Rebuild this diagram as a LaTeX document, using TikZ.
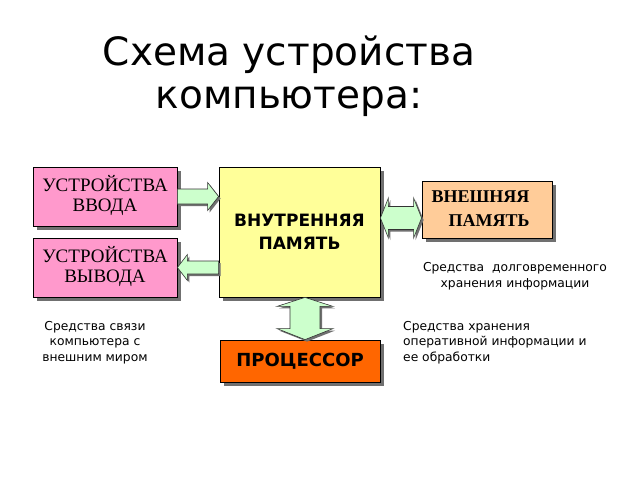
\documentclass[tikz,border=0pt]{standalone}
\usepackage{fontspec}
\setmainfont{Liberation Serif}
\newfontfamily\djv{DejaVu Sans}
\usetikzlibrary{calc,shadows}
\definecolor{pinkbox}{HTML}{FF99CC}
\definecolor{yelbox}{HTML}{FFFF99}
\definecolor{peachbox}{HTML}{FFCC99}
\definecolor{orangebox}{HTML}{FF6600}
\definecolor{arrowgreen}{HTML}{CCFFCC}
\definecolor{shadowgray}{HTML}{707070}
\begin{document}
\begin{tikzpicture}[x=1pt,y=-1pt,
  boxstyle/.style={draw=black, line width=0.8pt, inner sep=0pt, align=center,
    drop shadow={shadow xshift=3.5pt, shadow yshift=-3.5pt, fill=shadowgray, opacity=1}},
  barrow/.style={draw=black!80, line width=0.6pt, fill=arrowgreen, line join=miter,
    preaction={fill=shadowgray, transform canvas={shift={(2pt,-2pt)}}}},
  smalltext/.style={inner sep=0pt, font=\djv\fontsize{12.3}{15.5}\selectfont}
]
\useasboundingbox (0,0) rectangle (640,480);
\fill[white] (0,0) rectangle (640,480);

% title
\node[inner sep=0pt, anchor=base, font=\djv\fontsize{39}{44}\selectfont] (t1) at (289,65) {Схема устройства};
\node[inner sep=0pt, anchor=base, font=\djv\fontsize{39}{44}\selectfont] (t2) at (289,108) {компьютера:};

% boxes
\node[boxstyle, fill=pinkbox, minimum width=144pt, minimum height=59pt,
  font=\fontsize{19}{20}\selectfont] (in) at (105,196.5) {\raisebox{2pt}{\begin{tabular}{@{}c@{}}УСТРОЙСТВА\\ВВОДА\end{tabular}}};
\node[boxstyle, fill=pinkbox, minimum width=144pt, minimum height=59pt,
  font=\fontsize{19}{20}\selectfont] (out) at (105,267.5) {\raisebox{2pt}{\begin{tabular}{@{}c@{}}УСТРОЙСТВА\\ВЫВОДА\end{tabular}}};
\node[boxstyle, fill=yelbox, minimum width=161pt, minimum height=130pt,
  font=\djv\bfseries\fontsize{17}{23}\selectfont] (mem) at (299.5,232) {ВНУТРЕННЯЯ\\ПАМЯТЬ};
\node[boxstyle, fill=peachbox, minimum width=130pt, minimum height=57pt,
  font=\bfseries\fontsize{18}{24}\selectfont] (ext) at (487,209.5) {\raisebox{4.5pt}{\begin{tabular}{@{}l@{}}ВНЕШНЯЯ\\\hspace*{17pt}ПАМЯТЬ\end{tabular}}\hspace*{13pt}};
\node[boxstyle, fill=orangebox, minimum width=160pt, minimum height=42pt,
  font=\djv\bfseries\fontsize{18}{20}\selectfont] (cpu) at (300,361) {ПРОЦЕССОР};

% arrow in -> mem
\coordinate (a1s) at (in.east);
\coordinate (a1e) at (mem.west |- in.east);
\draw[barrow] ($(a1s)+(0,-7.5)$) -- ($(a1e)+(-11,-7.5)$) -- ($(a1e)+(-11,-14)$) -- (a1e)
  -- ($(a1e)+(-11,14)$) -- ($(a1e)+(-11,7.5)$) -- ($(a1s)+(0,7.5)$) -- cycle;

% arrow mem -> out
\coordinate (a2s) at (mem.west |- out.east);
\coordinate (a2e) at (out.east);
\draw[barrow] ($(a2s)+(0,-6.5)$) -- ($(a2e)+(10,-6.5)$) -- ($(a2e)+(10,-13)$) -- (a2e)
  -- ($(a2e)+(10,13)$) -- ($(a2e)+(10,6.5)$) -- ($(a2s)+(0,6.5)$) -- cycle;

% double arrow mem <-> ext
\coordinate (a3s) at ($(mem.east)+(0,-14)$);
\coordinate (a3e) at (ext.west |- a3s);
\draw[barrow] (a3s) -- ($(a3s)+(8,-20)$) -- ($(a3s)+(8,-11.5)$) -- ($(a3e)+(-8,-11.5)$)
  -- ($(a3e)+(-8,-20)$) -- (a3e) -- ($(a3e)+(-8,20)$) -- ($(a3e)+(-8,11.5)$)
  -- ($(a3s)+(8,11.5)$) -- ($(a3s)+(8,20)$) -- cycle;

% vertical double arrow mem <-> cpu
\coordinate (a4s) at ($(mem.south)+(5.5,0)$);
\coordinate (a4e) at (cpu.north -| a4s);
\draw[barrow] (a4s) -- ($(a4s)+(28,9)$) -- ($(a4s)+(15,9)$) -- ($(a4e)+(15,-11)$)
  -- ($(a4e)+(28,-11)$) -- (a4e) -- ($(a4e)+(-28,-11)$) -- ($(a4e)+(-15,-11)$)
  -- ($(a4s)+(-15,9)$) -- ($(a4s)+(-28,9)$) -- cycle;

% captions (base anchor = baseline of the last line)
\node[smalltext, align=center, anchor=base] (c1) at (515,287) {Средства\ \ долговременного\\хранения информации};
\node[smalltext, align=center, anchor=base] (c2) at (95,361) {Средства связи\\компьютера с\\внешним миром};
\node[smalltext, align=left, anchor=base west] (c3) at (403,361) {Средства хранения\\оперативной информации и\\ее обработки};
\end{tikzpicture}
\end{document}
